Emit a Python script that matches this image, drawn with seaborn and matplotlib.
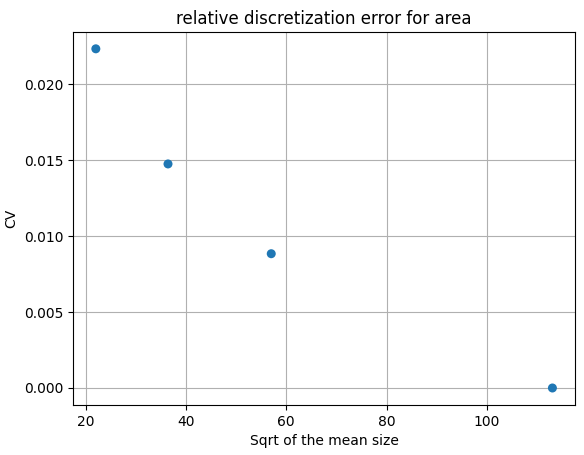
import seaborn as sns
import matplotlib.pyplot as plt
import pandas as pd

# values
sqrt_mean_size = [22.0, 36.4, 57.0, 113.1]
cv = [0.02233, 0.01475, 0.00884, 0.0]

df = pd.DataFrame({'x': sqrt_mean_size, 'cv': cv})

fig, ax = plt.subplots(figsize=(5.84, 4.55), dpi=100)
fig.subplots_adjust(left=0.125, right=0.985, top=0.93, bottom=0.11)
sns.scatterplot(x='x', y='cv', data=df, ax=ax, color='#1f77b4', s=42, edgecolor='none', zorder=3)
ax.grid(True, color='#b0b0b0', linewidth=0.8)
ax.set_axisbelow(True)
ax.set_title('relative discretization error for area')
ax.set_xlabel('Sqrt of the mean size')
ax.set_ylabel('CV')
fig.savefig('out.png', dpi=100)
